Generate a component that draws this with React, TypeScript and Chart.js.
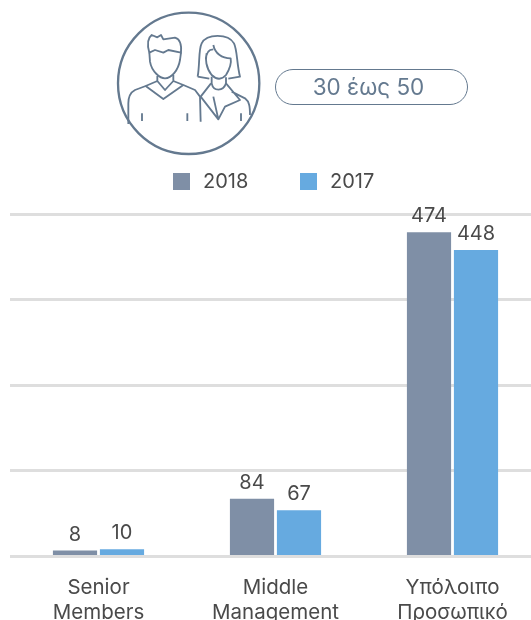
import React, { useEffect, useRef } from "react";
import { Chart, registerables } from "chart.js";

Chart.register(...registerables);

const categories = [["Senior", "Members"], ["Middle", "Management"], ["Υπόλοιπο", "Προσωπικό"]];
const values2018 = [8, 84, 474];
const values2017 = [10, 67, 448];
const seriesNames = ["2018", "2017"];
const seriesColors = ["#7f8fa6", "#66aae0"];
const ageLabel = "30 έως 50";

const FONT = "Inter, sans-serif";
const TEXT = "#4a4a4a";
const ICON = "#64798f";

const valueLabels = {
  id: "valueLabels",
  afterDatasetsDraw(chart: any) {
    const { ctx } = chart;
    ctx.save();
    ctx.font = `400 20px ${FONT}`;
    ctx.fillStyle = TEXT;
    ctx.textAlign = "center";
    ctx.textBaseline = "alphabetic";
    chart.data.datasets.forEach((ds: any, i: number) => {
      chart.getDatasetMeta(i).data.forEach((bar: any, j: number) => {
        ctx.fillText(String(ds.data[j]), bar.x, bar.y - 10);
      });
    });
    ctx.restore();
  },
};

export default function App() {
  const ref = useRef<HTMLCanvasElement>(null);
  useEffect(() => {
    document.body.style.margin = "0";
    document.body.style.overflow = "hidden";
    const chart = new Chart(ref.current!, {
      type: "bar",
      plugins: [valueLabels],
      data: {
        labels: categories,
        datasets: [
          { label: seriesNames[0], data: values2018, backgroundColor: seriesColors[0], base: 1.5 },
          { label: seriesNames[1], data: values2017, backgroundColor: seriesColors[1], base: 1.5 },
        ],
      },
      options: {
        animation: false,
        responsive: false,
        layout: { padding: { left: 10, right: 0, top: 214.5, bottom: 0 } },
        datasets: { bar: { categoryPercentage: 0.531, barPercentage: 0.94 } },
        plugins: {
          tooltip: { enabled: false },
          legend: { display: false },
        },
        scales: {
          x: {
            grid: { display: false },
            border: { display: false },
            ticks: { color: TEXT, font: { family: FONT, size: 20.5, weight: "400", lineHeight: 1.22 }, maxRotation: 0, padding: 11 },
            afterFit(scale: any) { scale.height = 64; },
          },
          y: {
            min: 0,
            max: 500,
            afterFit(scale: any) { scale.width = 0; },
            afterBuildTicks(scale: any) { scale.ticks = [0, 125, 250, 375, 500].map((value) => ({ value })); },
            ticks: { display: false },
            border: { display: false },
            grid: { color: "#dedede", lineWidth: 3, drawTicks: false },
          },
        },
      },
    } as any);
    return () => chart.destroy();
  }, []);

  return (
    <div style={{ position: "absolute", left: 0, top: 0, width: 531, height: 620, overflow: "hidden", background: "#fff" }}>
      <canvas ref={ref} width={541} height={620} style={{ position: "absolute", left: 0, top: 0, display: "block" }} />
      <svg width={380} height={200} viewBox="0 0 1140 600" style={{ position: "absolute", left: 100, top: 0 }}
        fill="none" stroke={ICON} strokeWidth={5.5} strokeLinejoin="round" strokeLinecap="butt">
        <circle cx={266} cy={250} r={212} strokeWidth={7} />
        <path d="M148 158C140 130 142 115 155 105L172 112L183 105L190 118L225 113C242 118 245 135 243 158L205 150L190 158L165 150Z" />
        <path d="M148 158L150 185C155 215 180 235 195 235C215 235 235 210 240 180L243 158" />
        <path d="M172 228V243L137 258L190 297L250 255L220 243V225M172 243L195 270L220 243" />
        <path d="M137 258L105 270C90 278 85 290 85 310V372M250 255L285 270L300 290L302 365" />
        <path d="M126 340V363M262 340V363M423 340V363" />
        <path d="M293 230C300 190 295 150 305 130C320 100 385 100 402 130C412 150 410 190 420 230L385 236M293 230L328 236" />
        <path d="M320 160C315 175 318 205 335 225C350 240 365 240 378 225C390 205 395 190 392 175C365 175 345 160 340 135M340 148C325 148 318 160 318 180" />
        <path d="M335 230V250C340 275 370 275 378 250V232" />
        <path d="M333 250L302 290L355 358L375 320L420 300L378 250M340 290L355 358M395 275L435 295C448 305 450 320 450 345" />
      </svg>
      <div style={{
        position: "absolute", left: 275, top: 69, width: 185, height: 34, paddingRight: 6, border: `1px solid ${ICON}`,
        borderRadius: 18, color: ICON, font: `400 22.5px ${FONT}`, lineHeight: "34px", textAlign: "center",
      }}>{ageLabel}</div>
      {[173, 300].map((x, i) => (
        <React.Fragment key={seriesNames[i]}>
          <div style={{ position: "absolute", left: x, top: 173, width: 17, height: 17, background: seriesColors[i] }} />
          <div style={{ position: "absolute", left: x + 30, top: 170, color: TEXT, font: `400 20px ${FONT}`, lineHeight: "23px" }}>{seriesNames[i]}</div>
        </React.Fragment>
      ))}
    </div>
  );
}
